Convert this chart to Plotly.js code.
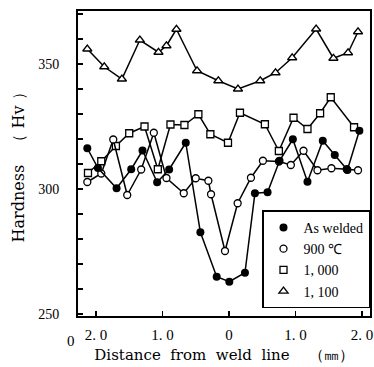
<!DOCTYPE html>
<html>
<head>
<meta charset="utf-8">
<script src="https://cdn.plot.ly/plotly-3.0.1.min.js"></script>
<style>html,body{margin:0;padding:0;background:#fff;}#chart{width:374px;height:367px;}</style>
</head>
<body>
<div id="chart"></div>
<script>
// Distance from weld line (mm): negative = left side of weld line
const seriesNames = ["As welded", "900 \u2103", "1, 000", "1, 100"];

const asWeldedX = [-2.13, -1.97, -1.69, -1.47, -1.30, -1.08, -0.90, -0.65, -0.43, -0.185, 0.005, 0.24, 0.39, 0.58, 0.76, 0.96, 1.18, 1.41, 1.59, 1.78, 1.96];
const asWeldedY = [316.3, 308.4, 300.3, 307.9, 315.4, 302.7, 307.8, 318.5, 282.7, 264.9, 262.9, 266.5, 298.3, 298.7, 311.3, 319.9, 302.9, 319.3, 313.6, 307.6, 323.3];

const c900X = [-2.13, -1.92, -1.74, -1.53, -1.32, -1.13, -0.94, -0.68, -0.50, -0.31, -0.27, -0.06, 0.13, 0.33, 0.51, 0.75, 0.93, 1.12, 1.33, 1.54, 1.77, 1.94];
const c900Y = [302.8, 306.2, 319.8, 297.6, 307.8, 322.5, 304.4, 298.3, 304.3, 303.3, 297.9, 275.2, 294.3, 304.5, 311.3, 311.0, 309.6, 315.3, 307.5, 308.3, 307.9, 307.5];

const c1000X = [-2.12, -1.92, -1.70, -1.50, -1.27, -1.07, -0.88, -0.67, -0.46, -0.28, -0.015, 0.165, 0.54, 0.75, 0.97, 1.18, 1.37, 1.53, 1.88];
const c1000Y = [306.4, 311.1, 317.2, 322.3, 325.0, 307.9, 325.8, 325.6, 329.9, 321.9, 318.5, 330.5, 325.9, 315.2, 328.5, 324.0, 330.3, 336.7, 324.7];

const c1100X = [-2.13, -1.875, -1.61, -1.34, -1.06, -0.94, -0.79, -0.48, -0.16, 0.135, 0.47, 0.70, 0.95, 1.31, 1.57, 1.79, 1.94];
const c1100Y = [356.0, 348.9, 344.0, 359.6, 354.7, 357.3, 363.9, 347.3, 343.3, 340.0, 343.3, 346.5, 352.5, 364.0, 352.3, 354.5, 362.9];

const xTickVals = [-2, -1, 0, 1, 2];
const xTickText = ["2. 0", "1. 0", "0", "1. 0", "2. 0"];
const yTickVals = [250, 260, 270, 280, 290, 300, 310, 320, 330, 340, 350, 360, 370];
const yTickText = ["250", "", "", "", "", "300", "", "", "", "", "350", "", ""];

const serif = "Liberation Serif, Times New Roman, serif";
const lineStyle = {color: "#000", width: 1.5};

const markerStyles = [
  {symbol: "circle", size: 8, color: "#000", line: {color: "#000", width: 0}},
  {symbol: "circle", size: 7, color: "#fff", line: {color: "#000", width: 1.3}},
  {symbol: "square", size: 7, color: "#fff", line: {color: "#000", width: 1.3}},
  {symbol: "triangle-up", size: 8, color: "#fff", line: {color: "#000", width: 1.3}}
];
const seriesX = [asWeldedX, c900X, c1000X, c1100X];
const seriesY = [asWeldedY, c900Y, c1000Y, c1100Y];

const traces = [];
// draw 1,100 first and "As welded" last so filled dots sit on top
for (let i = 3; i >= 0; i--) {
  traces.push({x: seriesX[i], y: seriesY[i], mode: "lines", line: lineStyle,
               showlegend: false, hoverinfo: "skip"});
  traces.push({x: seriesX[i], y: seriesY[i], mode: "markers", name: seriesNames[i],
               marker: markerStyles[i]});
}

const layout = {
  width: 374, height: 367,
  margin: {l: 78, r: 4, t: 11, b: 51},
  paper_bgcolor: "#fff", plot_bgcolor: "#fff",
  showlegend: true,
  legend: {
    traceorder: "reversed",
    x: 1, xanchor: "right", y: 0.025, yanchor: "bottom",
    bgcolor: "#fff", bordercolor: "#000", borderwidth: 1.5,
    font: {family: serif, size: 14, color: "#000"},
    itemwidth: 30, tracegroupgap: 0
  },
  xaxis: {
    range: [-2.27, 2.12],
    tickvals: xTickVals, ticktext: xTickText,
    ticks: "inside", ticklen: 5, tickwidth: 1.5, tickcolor: "#000",
    showgrid: false, zeroline: false,
    showline: true, linecolor: "#000", linewidth: 2, mirror: true,
    tickfont: {family: serif, size: 15, color: "#000"},
    ticklabelstandoff: 4,
    title: {text: "Distance\u00a0\u00a0from\u00a0\u00a0weld\u00a0\u00a0line\u00a0\u00a0\u00a0\u00a0\uff08\u339c\uff09",
            font: {family: "DejaVu Serif, serif", size: 15, color: "#000"}, standoff: 7}
  },
  yaxis: {
    range: [249.2, 371.2],
    tickvals: yTickVals, ticktext: yTickText,
    ticks: "inside", ticklen: 5, tickwidth: 1.5, tickcolor: "#000",
    showgrid: false, zeroline: false,
    showline: true, linecolor: "#000", linewidth: 2, mirror: true,
    tickfont: {family: serif, size: 14, color: "#000"},
    ticklabelstandoff: 14,
    title: {text: "Hardness\u00a0\u00a0\u00a0\uff08\u00a0Hv\u00a0\uff09",
            font: {family: "DejaVu Serif, serif", size: 16, color: "#000"}, standoff: 10}
  },
  annotations: [
    {text: "0", xref: "paper", yref: "paper", x: -0.045, y: -0.115, showarrow: false,
     font: {family: serif, size: 15, color: "#000"}}
  ]
};

Plotly.newPlot("chart", traces, layout, {staticPlot: true, displayModeBar: false});
</script>
</body>
</html>
